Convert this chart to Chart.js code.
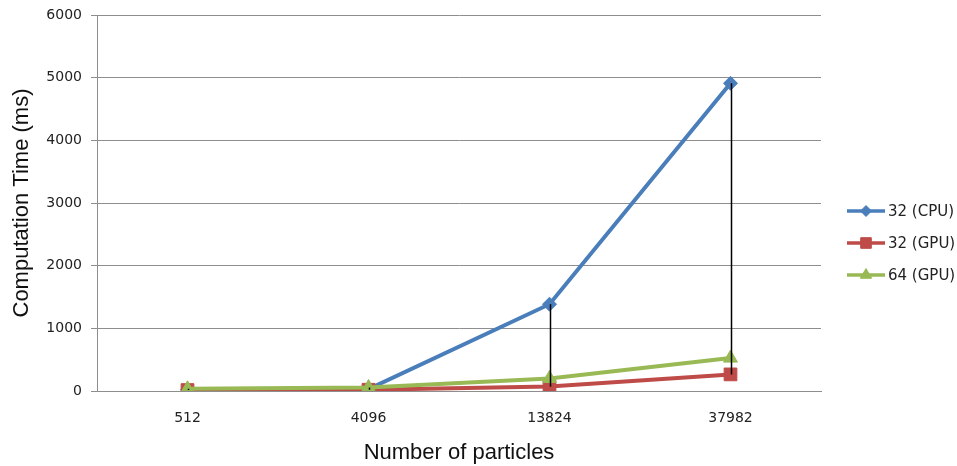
<!DOCTYPE html>
<html>
<head>
<meta charset="utf-8">
<script src="https://cdn.jsdelivr.net/npm/chart.js@4.4.1/dist/chart.umd.min.js"></script>
<style>
  html, body { margin: 0; padding: 0; background: #ffffff; }
  #wrap { width: 957px; height: 466px; position: relative; }
</style>
</head>
<body>
<div id="wrap"><canvas id="chart" width="957" height="466"></canvas></div>
<script>
// Particle counts along the x axis
const categories = ['512', '4096', '13824', '37982'];
// Computation time (ms) per configuration
const cpu32 = [20, 30, 1385, 4910];
const gpu32 = [15, 20, 70, 265];
const gpu64 = [35, 55, 200, 525];
const seriesNames = ['32 (CPU)', '32 (GPU)', '64 (GPU)'];
const yTicks = [0, 1000, 2000, 3000, 4000, 5000, 6000];

const colors = ['#4a7ebb', '#be4b48', '#98b954'];
const markers = ['rectRot', 'rect', 'triangle'];
const markerSizes = [7, 9, 8];
const legendMarkerSizes = [5.5, 7.5, 6.5];

// Vertical high-low lines joining the extremes of all series at each category
const highLowLines = {
  id: 'highLowLines',
  afterDatasetsDraw(chart) {
    const { ctx } = chart;
    const x = chart.scales.x, y = chart.scales.y;
    const all = [cpu32, gpu32, gpu64];
    ctx.save();
    ctx.strokeStyle = '#000000';
    ctx.lineWidth = 1.5;
    categories.forEach((c, i) => {
      const vals = all.map(s => s[i]);
      const hi = Math.max(...vals), lo = Math.min(...vals);
      const px = Math.round(x.getPixelForValue(i)) + 0.5;
      ctx.beginPath();
      ctx.moveTo(px, y.getPixelForValue(hi));
      ctx.lineTo(px, y.getPixelForValue(lo));
      ctx.stroke();
    });
    ctx.restore();
  }
};

// Legend on the right: line segment with marker, then label
const sideLegend = {
  id: 'sideLegend',
  afterDraw(chart) {
    const { ctx } = chart;
    ctx.save();
    const x0 = 847, x1 = 885, tx = 888;
    const ys = [211, 243, 275];
    seriesNames.forEach((name, i) => {
      const yy = ys[i];
      ctx.strokeStyle = colors[i];
      ctx.lineWidth = 3.5;
      ctx.beginPath();
      ctx.moveTo(x0, yy);
      ctx.lineTo(x1, yy);
      ctx.stroke();
      ctx.fillStyle = colors[i];
      ctx.strokeStyle = colors[i];
      ctx.lineWidth = 1;
      Chart.helpers.drawPoint(ctx, { pointStyle: markers[i], radius: legendMarkerSizes[i], borderWidth: 1 }, (x0 + x1) / 2, yy);
      ctx.fillStyle = '#222222';
      ctx.font = '15px "DejaVu Sans"';
      ctx.textBaseline = 'middle';
      ctx.textAlign = 'left';
      ctx.fillText(name, tx, yy + 1);
    });
    ctx.restore();
  }
};

// Later series are painted over earlier ones
const makeSet = (label, data, i) => ({
  label,
  data,
  order: 2 - i,
  borderColor: colors[i],
  backgroundColor: colors[i],
  borderWidth: 4,
  pointStyle: markers[i],
  pointRadius: markerSizes[i],
  pointHoverRadius: markerSizes[i],
  pointBorderWidth: 1,
  pointBorderColor: colors[i],
  pointBackgroundColor: colors[i],
  tension: 0,
  fill: false
});

new Chart(document.getElementById('chart'), {
  type: 'line',
  data: {
    labels: categories,
    datasets: [
      makeSet(seriesNames[0], cpu32, 0),
      makeSet(seriesNames[1], gpu32, 1),
      makeSet(seriesNames[2], gpu64, 2)
    ]
  },
  options: {
    responsive: false,
    animation: false,
    layout: { padding: { left: 0, right: 136, top: 15, bottom: 0 } },
    plugins: { legend: { display: false }, tooltip: { enabled: false } },
    scales: {
      x: {
        offset: true,
        grid: { display: false, drawTicks: false },
        border: { display: true, color: '#8e8e8e', width: 1 },
        ticks: { color: '#222222', font: { family: 'DejaVu Sans', size: 14 }, padding: 19, maxRotation: 0 },
        title: { display: true, text: 'Number of particles', color: '#111111',
                 font: { family: 'Liberation Sans', size: 22 }, padding: { top: 2, bottom: 0 } },
        afterFit(scale) { scale.height = 466 - 391; scale.paddingLeft = 0; scale.paddingRight = 0; }
      },
      y: {
        min: 0, max: 6000,
        afterBuildTicks(scale) { scale.ticks = yTicks.map(v => ({ value: v })); },
        grid: { color: '#8e8e8e', lineWidth: 1, drawTicks: true, tickLength: 6 },
        border: { display: true, color: '#8e8e8e', width: 1 },
        ticks: { color: '#222222', font: { family: 'DejaVu Sans', size: 14 }, padding: 9,
                 callback: v => String(v) },
        title: { display: true, text: 'Computation Time (ms)', color: '#111111',
                 font: { family: 'Liberation Sans', size: 22 }, padding: { top: 9, bottom: 0 } },
        afterFit(scale) { scale.width = 97; scale.paddingTop = 0; scale.paddingBottom = 0; }
      }
    }
  },
  plugins: [highLowLines, sideLegend]
});
</script>
</body>
</html>
